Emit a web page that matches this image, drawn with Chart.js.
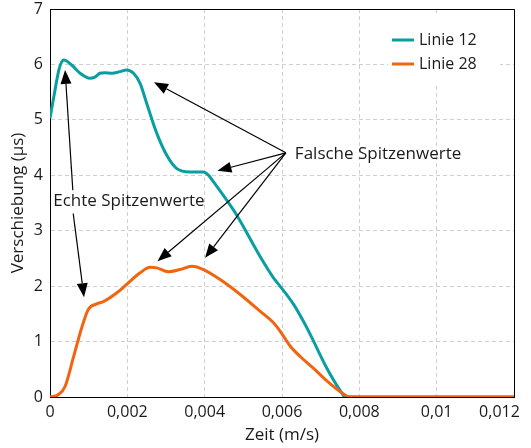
<!DOCTYPE html>
<html>
<head>
<meta charset="utf-8">
<script src="https://cdn.jsdelivr.net/npm/chart.js@4.4.1/dist/chart.umd.min.js"></script>
<style>
  html, body { margin: 0; padding: 0; background: #fff; }
  #wrap { width: 531px; height: 448px; }
</style>
</head>
<body>
<div id="wrap"><canvas id="chart" width="531" height="448"></canvas></div>
<script>
// values
const timeLinie12 = [0, 0.00013, 0.00024, 0.00036, 0.00056, 0.00078, 0.00103, 0.00116, 0.00129, 0.00142, 0.0016, 0.00181, 0.00198, 0.00216, 0.00233, 0.0025, 0.00276, 0.00302, 0.00328, 0.00362, 0.00397, 0.0041, 0.00423, 0.00457, 0.00483, 0.00543, 0.00578, 0.00595, 0.0063, 0.00655, 0.00673, 0.00716, 0.00755, 0.00763, 0.012];
const shiftLinie12 = [5.03, 5.54, 5.93, 6.08, 5.99, 5.84, 5.75, 5.77, 5.84, 5.85, 5.84, 5.87, 5.90, 5.84, 5.66, 5.30, 4.76, 4.36, 4.12, 4.06, 4.06, 4.0, 3.88, 3.55, 3.28, 2.54, 2.15, 2.0, 1.67, 1.37, 1.13, 0.52, 0.07, 0, 0];

const timeLinie28 = [0, 0.00021, 0.00039, 0.0006, 0.00082, 0.00099, 0.00121, 0.00138, 0.00173, 0.00198, 0.00233, 0.00259, 0.00276, 0.00306, 0.00336, 0.00367, 0.00397, 0.0044, 0.00492, 0.00543, 0.00578, 0.00595, 0.00621, 0.00647, 0.00681, 0.00716, 0.0075, 0.00776, 0.012];
const shiftLinie28 = [0, 0.04, 0.19, 0.7, 1.25, 1.58, 1.68, 1.72, 1.88, 2.03, 2.24, 2.34, 2.33, 2.26, 2.30, 2.36, 2.30, 2.12, 1.85, 1.55, 1.34, 1.19, 0.92, 0.73, 0.52, 0.29, 0.10, 0, 0];

const xTickLabels = ['0', '0,002', '0,004', '0,006', '0,008', '0,01', '0,012'];
const yTickLabels = ['0', '1', '2', '3', '4', '5', '6', '7'];

// annotations, in data units [time, shift]
const falscheText = 'Falsche Spitzenwerte';
const falscheFrom = [0.0061, 4.405];
const falscheTo = [[0.00269, 5.68], [0.00433, 4.08], [0.00278, 2.45], [0.00401, 2.51]];
const echteText = 'Echte Spitzenwerte';
const echteAt = [0.00204, 3.53];
const echteArrows = [
    [[0.00059, 3.73], [0.00039, 5.90]],
    [[0.0006, 3.31], [0.00088, 1.80]]
];

const FONT = '"Open Sans", "Noto Sans", sans-serif';
const TEXT = '#1a1a1a';

function toPoints(xs, ys) {
    return xs.map((x, i) => ({ x: x, y: ys[i] }));
}

function arrow(ctx, x1, y1, x2, y2) {
    const ang = Math.atan2(y2 - y1, x2 - x1);
    const len = 14, half = 5.5;
    const bx = x2 - len * Math.cos(ang), by = y2 - len * Math.sin(ang);
    ctx.beginPath();
    ctx.moveTo(x1, y1);
    ctx.lineTo(bx, by);
    ctx.stroke();
    ctx.beginPath();
    ctx.moveTo(x2, y2);
    ctx.lineTo(bx + half * Math.sin(ang), by - half * Math.cos(ang));
    ctx.lineTo(bx - half * Math.sin(ang), by + half * Math.cos(ang));
    ctx.closePath();
    ctx.fill();
}

const overlay = {
    id: 'overlay',
    afterDatasetsDraw(chart) {
        const { ctx, chartArea: a, scales: { x, y } } = chart;
        ctx.save();

        // top and right frame
        ctx.strokeStyle = '#000';
        ctx.lineWidth = 1;
        ctx.beginPath();
        ctx.moveTo(a.left, a.top + 0.5);
        ctx.lineTo(a.right + 0.5, a.top + 0.5);
        ctx.lineTo(a.right + 0.5, a.bottom);
        ctx.stroke();

        // legend
        ctx.fillStyle = '#fff';
        ctx.fillRect(a.right - 126, a.top + 7, 112, 68);
        ctx.font = '16px ' + FONT;
        ctx.textBaseline = 'middle';
        ctx.textAlign = 'left';
        chart.data.datasets.forEach((ds, i) => {
            const ly = a.top + 31 + i * 24;
            ctx.strokeStyle = ds.borderColor;
            ctx.lineWidth = 3;
            ctx.beginPath();
            ctx.moveTo(a.right - 122, ly);
            ctx.lineTo(a.right - 100, ly);
            ctx.stroke();
            ctx.fillStyle = TEXT;
            ctx.fillText(ds.label, a.right - 95, ly);
        });

        // arrows
        ctx.strokeStyle = '#000';
        ctx.fillStyle = '#000';
        ctx.lineWidth = 1.2;
        const fx = x.getPixelForValue(falscheFrom[0]), fy = y.getPixelForValue(falscheFrom[1]);
        falscheTo.forEach(p => arrow(ctx, fx, fy, x.getPixelForValue(p[0]), y.getPixelForValue(p[1])));
        echteArrows.forEach(([s, e]) => arrow(ctx,
            x.getPixelForValue(s[0]), y.getPixelForValue(s[1]),
            x.getPixelForValue(e[0]), y.getPixelForValue(e[1])));

        ctx.fillStyle = TEXT;
        ctx.font = '17px ' + FONT;
        ctx.textAlign = 'left';
        ctx.fillText(falscheText, fx + 9, fy + 1);
        ctx.textAlign = 'center';
        ctx.fillText(echteText, x.getPixelForValue(echteAt[0]), y.getPixelForValue(echteAt[1]));
        ctx.restore();
    }
};

const ctx = document.getElementById('chart').getContext('2d');
new Chart(ctx, {
    type: 'line',
    data: {
        datasets: [
            {
                label: 'Linie 12',
                data: toPoints(timeLinie12, shiftLinie12),
                borderColor: '#0a9ea0',
                backgroundColor: '#0a9ea0',
                borderWidth: 3,
                pointRadius: 0,
                cubicInterpolationMode: 'monotone',
                order: 1
            },
            {
                label: 'Linie 28',
                data: toPoints(timeLinie28, shiftLinie28),
                borderColor: '#f0650f',
                backgroundColor: '#f0650f',
                borderWidth: 3,
                pointRadius: 0,
                cubicInterpolationMode: 'monotone',
                order: 0
            }
        ]
    },
    options: {
        responsive: false,
        animation: false,
        devicePixelRatio: 1,
        layout: { padding: { top: 9, right: 17, left: 0, bottom: 0 } },
        plugins: {
            legend: { display: false },
            tooltip: { enabled: false }
        },
        scales: {
            x: {
                type: 'linear',
                min: 0,
                max: 0.012,
                afterFit(s) { s.height = 51; s.paddingRight = 0; },
                ticks: {
                    stepSize: 0.002,
                    autoSkip: false,
                    maxRotation: 0,
                    padding: 6,
                    color: TEXT,
                    font: { family: FONT, size: 16 },
                    callback: (v, i) => i === xTickLabels.length - 1
                        ? xTickLabels[i] + '\u00a0'.repeat(7)
                        : xTickLabels[i]
                },
                grid: { color: '#cfcfcf', lineWidth: 1, drawTicks: false },
                border: { color: '#000', width: 1, dash: [4, 3] },
                title: {
                    display: true,
                    text: 'Zeit (m/s)',
                    color: TEXT,
                    font: { family: FONT, size: 17 },
                    padding: { top: 0, bottom: 3 }
                }
            },
            y: {
                min: 0,
                max: 7,
                afterFit(s) { s.width = 50; s.paddingTop = 0; s.paddingBottom = 0; },
                ticks: {
                    stepSize: 1,
                    padding: 7,
                    color: TEXT,
                    font: { family: FONT, size: 16 },
                    callback: (v, i) => yTickLabels[i]
                },
                grid: { color: '#cfcfcf', lineWidth: 1, drawTicks: false },
                border: { color: '#000', width: 1, dash: [4, 3] },
                title: {
                    display: true,
                    text: 'Verschiebung (µs)',
                    color: TEXT,
                    font: { family: FONT, size: 17 },
                    padding: { top: 8, bottom: 0 }
                }
            }
        }
    },
    plugins: [overlay]
});
</script>
</body>
</html>
